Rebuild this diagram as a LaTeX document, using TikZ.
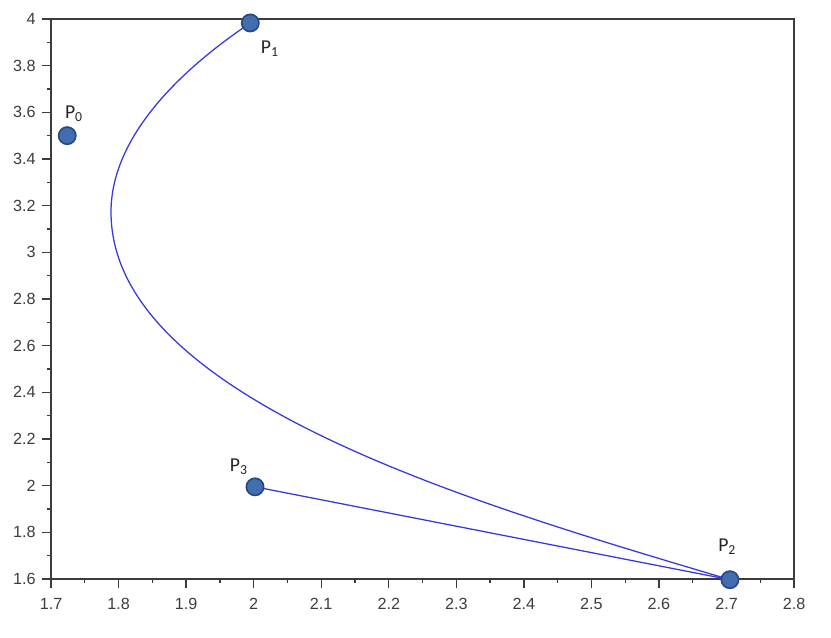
\documentclass[tikz,border=0pt]{standalone}
\usepackage{fontspec}
\setmainfont{Liberation Sans}
\newfontfamily\calfont{Carlito}
\definecolor{axisgray}{RGB}{60,60,60}
\definecolor{curveblue}{RGB}{55,55,225}
\definecolor{markfill}{RGB}{66,110,176}
\definecolor{markedge}{RGB}{40,74,128}
\begin{document}
\begin{tikzpicture}[
    x=16.8875cm, y=5.8333cm,
    axisline/.style={
        draw=axisgray,
        line width=1.1pt
    },
    tickmark/.style={
        draw=axisgray,
        line width=1pt
    },
    ticklabel/.style={
        text=axisgray,
        font=\fontsize{11.5}{13}\selectfont,
        inner sep=0pt
    },
    curve/.style={
        draw=curveblue,
        line width=0.9pt
    },
    ptmark/.style={
        circle,
        fill=markfill,
        draw=markedge,
        line width=1.2pt,
        minimum size=0.43cm,
        inner sep=0pt
    },
    ptlabel/.style={
        font=\calfont\fontsize{14}{16}\selectfont,
        text=black!85,
        inner sep=0pt
    }
]
\useasboundingbox (1.6245,1.3514) rectangle (2.8547,4.0814);

% axes box
\coordinate (ll) at (1.7,1.6);
\coordinate (ur) at (2.8,4);
\draw[axisline] (ll) rectangle (ur);

% x ticks
\foreach \v in {1.7,1.8,1.9,2,2.1,2.2,2.3,2.4,2.5,2.6,2.7,2.8} {
    \draw[tickmark] (\v,1.6) -- ++(0,-0.22cm);
    \node[ticklabel] at ([yshift=-0.63cm]\v,1.6) {\v};
}
\foreach \v in {1.75,1.85,...,2.76}
    \draw[tickmark] (\v,1.6) -- ++(0,-0.1cm);

% y ticks
\foreach \v in {1.6,1.8,2,2.2,2.4,2.6,2.8,3,3.2,3.4,3.6,3.8,4} {
    \draw[tickmark] (1.7,\v) -- ++(-0.22cm,0);
    \node[ticklabel, anchor=east] at ([xshift=-0.38cm]1.7,\v) {\v};
}
\foreach \v in {1.7,1.9,...,3.95}
    \draw[tickmark] (1.7,\v) -- ++(-0.1cm,0);

% control points
\coordinate (p0) at (1.724,3.5);
\coordinate (p1) at (1.995,3.983);
\coordinate (p2) at (2.705,1.597);
\coordinate (p3) at (2.002,1.995);
\coordinate (lft) at (1.7888,3.173);

% curve and segment
\draw[curve] (p1) .. controls (1.9428,3.880) and (1.7888,3.567) .. (lft)
    .. controls (1.7888,2.367) and (2.3351,1.917) .. (p2);
\draw[curve] (p3) -- (p2);

% markers
\foreach \p in {p0,p1,p2,p3}
    \node[ptmark] (m\p) at (\p) {};

\node[ptlabel] (lp0) at (1.734,3.593) {P\textsubscript{0}};
\node[ptlabel] (lp1) at (2.024,3.871) {P\textsubscript{1}};
\node[ptlabel] (lp2) at (2.701,1.737) {P\textsubscript{2}};
\node[ptlabel] (lp3) at (1.978,2.080) {P\textsubscript{3}};
\end{tikzpicture}
\end{document}
